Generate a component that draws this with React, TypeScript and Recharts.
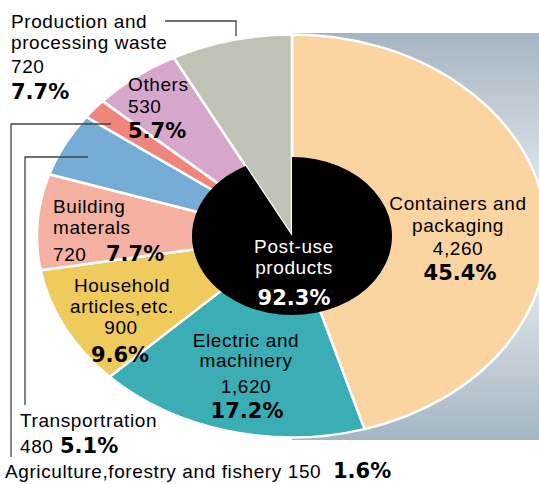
import React from 'react'
import { PieChart, Pie, Cell } from 'recharts'

const CATEGORIES = [
  'Containers and packaging',
  'Electric and machinery',
  'Household articles,etc.',
  'Building materals',
  'Transportration',
  'Agriculture,forestry and fishery',
  'Others',
  'Production and processing waste',
]
const AMOUNTS = [4260, 1620, 900, 720, 480, 150, 530, 720]
const PERCENTS = ['45.4%', '17.2%', '9.6%', '7.7%', '5.1%', '1.6%', '5.7%', '7.7%']
const COLORS = ['#fbd5a1', '#3badb5', '#efca5d', '#f4b1a2', '#75acd5', '#ef867b', '#d7a7cb', '#bfc3b4']

const INNER = ['Post-use products', 'Production and processing waste']
const INNER_AMOUNTS = [8660, 720]
const INNER_PERCENT = '92.3%'

const RY = 0.79
const RAD = Math.PI / 180
const REG = "'Liberation Sans', Arial, sans-serif"
const BOLD = "'DejaVu Sans', sans-serif"

// pie sector squashed into an ellipse (parametric angle keeps proportions)
function EllipseSector(props: any) {
  const { cx, cy, outerRadius, startAngle, endAngle, fill, stroke, strokeWidth } = props
  const rx = outerRadius
  const ry = outerRadius * RY
  const pt = (a: number) => [cx + rx * Math.cos(-a * RAD), cy + ry * Math.sin(-a * RAD)]
  const [x1, y1] = pt(startAngle)
  const [x2, y2] = pt(endAngle)
  const large = Math.abs(endAngle - startAngle) > 180 ? 1 : 0
  const sweep = startAngle > endAngle ? 1 : 0
  const d = `M${cx},${cy} L${x1},${y1} A${rx},${ry} 0 ${large} ${sweep} ${x2},${y2} Z`
  return <path d={d} fill={fill} stroke={stroke} strokeWidth={strokeWidth} strokeLinejoin="round" />
}

const fmt = (v: number) => v.toLocaleString('en-US')

function T({ x, y, children, anchor = 'start', bold = false, fill = '#000', size }: any) {
  return (
    <text
      x={x}
      y={y}
      textAnchor={anchor}
      fill={fill}
      fontFamily={bold ? BOLD : REG}
      fontWeight={bold ? 700 : 400}
      fontSize={size ?? (bold ? 21 : 19)}
      letterSpacing={bold ? 0 : 0.6}
    >
      {children}
    </text>
  )
}

function Labels() {
  const line = '#444'
  return (
    <svg width={539} height={484} style={{ position: 'absolute', left: 0, top: 0, pointerEvents: 'none' }}>
      {/* leader lines */}
      <polyline points="165,21 236,21 236,36" fill="none" stroke={line} strokeWidth={1.3} />
      <polyline points="111,124 11,124 11,457" fill="none" stroke={line} strokeWidth={1.3} />
      <polyline points="88,157 25,157 25,405" fill="none" stroke={line} strokeWidth={1.3} />

      {/* Containers */}
      <T x={458} y={210} anchor="middle">Containers and</T>
      <T x={458} y={232} anchor="middle">packaging</T>
      <T x={458} y={255} anchor="middle">{fmt(AMOUNTS[0])}</T>
      <T x={460} y={280} anchor="middle" bold>{PERCENTS[0]}</T>

      {/* Electric */}
      <T x={246} y={347} anchor="middle">Electric and</T>
      <T x={246} y={367} anchor="middle">machinery</T>
      <T x={246} y={393} anchor="middle">{fmt(AMOUNTS[1])}</T>
      <T x={247} y={418} anchor="middle" bold>{PERCENTS[1]}</T>

      {/* Household */}
      <T x={122} y={292} anchor="middle">Household</T>
      <T x={122} y={313} anchor="middle">articles,etc.</T>
      <T x={121} y={334} anchor="middle">{fmt(AMOUNTS[2])}</T>
      <T x={120} y={362} anchor="middle" bold>{PERCENTS[2]}</T>

      {/* Building */}
      <T x={53} y={213}>Building</T>
      <T x={53} y={234}>materals</T>
      <T x={53} y={261}>{fmt(AMOUNTS[3])}</T>
      <T x={106} y={261} bold>{PERCENTS[3]}</T>

      {/* Transportation */}
      <T x={20} y={427}>{CATEGORIES[4]}</T>
      <T x={20} y={453}>{fmt(AMOUNTS[4])}</T>
      <T x={60} y={453} bold>{PERCENTS[4]}</T>

      {/* Agriculture */}
      <T x={5} y={478}>{`${CATEGORIES[5]} ${fmt(AMOUNTS[5])}`}</T>
      <T x={333} y={478} bold>{PERCENTS[5]}</T>

      {/* Others */}
      <T x={128} y={91}>{CATEGORIES[6]}</T>
      <T x={128} y={113}>{fmt(AMOUNTS[6])}</T>
      <T x={128} y={138} bold>{PERCENTS[6]}</T>

      {/* Production waste */}
      <T x={11} y={28}>Production and</T>
      <T x={11} y={49}>processing waste</T>
      <T x={11} y={73}>{fmt(AMOUNTS[7])}</T>
      <T x={11} y={99} bold>{PERCENTS[7]}</T>

      {/* Post-use */}
      <T x={294} y={253} anchor="middle" fill="#fff">Post-use</T>
      <T x={294} y={274} anchor="middle" fill="#fff">products</T>
      <T x={294} y={305} anchor="middle" fill="#fff" bold>{INNER_PERCENT}</T>
    </svg>
  )
}

export default function App() {
  const outer = CATEGORIES.map((name, i) => ({ name, value: AMOUNTS[i] }))
  const inner = INNER.map((name, i) => ({ name, value: INNER_AMOUNTS[i] }))
  return (
    <div style={{ position: 'absolute', left: 0, top: 0, width: 539, height: 484, background: '#fff' }}>
      <svg width={539} height={484} style={{ position: 'absolute', left: 0, top: 0 }}>
        <defs>
          <linearGradient id="bg" x1="0" y1="0" x2="0" y2="1">
            <stop offset="0%" stopColor="#a4b6c3" />
            <stop offset="50%" stopColor="#f3f3f5" />
            <stop offset="100%" stopColor="#a4b6c3" />
          </linearGradient>
        </defs>
        <rect x={292} y={33} width={247} height={407} fill="url(#bg)" />
      </svg>
      <div style={{ position: 'absolute', left: 0, top: 0 }}>
        <PieChart width={539} height={484} margin={{ top: 0, right: 0, bottom: 0, left: 0 }}>
          <Pie
            data={outer}
            dataKey="value"
            cx={292}
            cy={236}
            outerRadius={255}
            startAngle={90}
            endAngle={-270}
            stroke="#fff"
            strokeWidth={2.5}
            shape={EllipseSector}
            isAnimationActive={false}
          >
            {outer.map((d, i) => (
              <Cell key={d.name} fill={COLORS[i]} />
            ))}
          </Pie>
          <Pie
            data={inner}
            dataKey="value"
            cx={292}
            cy={236}
            outerRadius={100}
            startAngle={90}
            endAngle={-270}
            stroke="none"
            shape={EllipseSector}
            isAnimationActive={false}
          >
            <Cell fill="#000" />
            <Cell fill="none" />
          </Pie>
        </PieChart>
      </div>
      <Labels />
    </div>
  )
}
